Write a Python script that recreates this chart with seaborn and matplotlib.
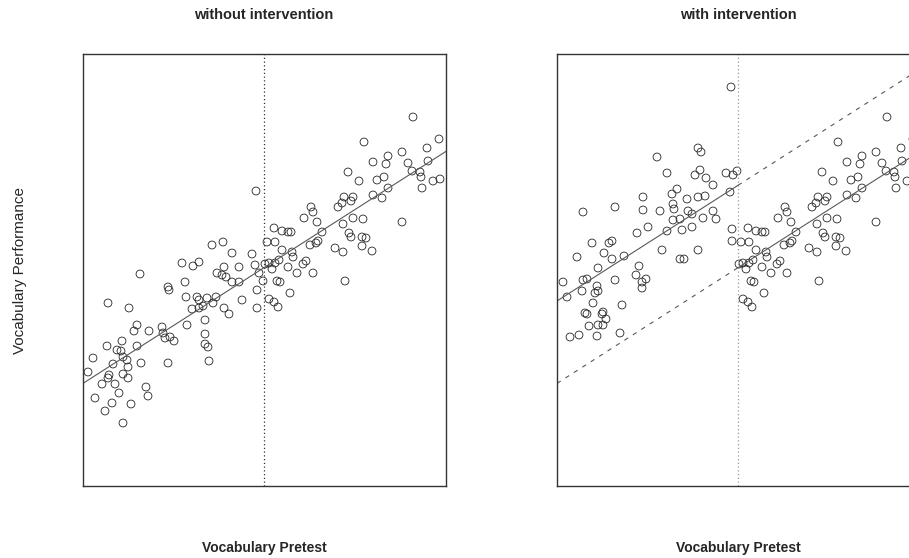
import numpy as np
import pandas as pd
import matplotlib
matplotlib.use("Agg")
import matplotlib.pyplot as plt
import seaborn as sns

# Cutoff on the pretest
cutoff = 50

# Treated group (pretest below cutoff), before the intervention
pre_treat = [14.8, 15.8, 16.2, 17.6, 18.2, 18.6, 18.8, 19.0, 18.8, 19.6,
             19.8, 20.2, 20.6, 21.0, 21.4, 21.6, 21.8, 21.8, 21.8, 22.6,
             22.8, 22.8, 23.0, 23.4, 24.0, 24.6, 24.6, 25.2, 25.4, 26.4,
             26.8, 27.0, 29.6, 29.8, 30.2, 31.2, 32.0, 30.8, 30.8, 31.0,
             33.6, 34.2, 34.4, 34.6, 35.6, 35.8, 36.6, 37.0, 37.0, 37.0,
             37.8, 38.2, 38.2, 38.2, 38.8, 39.0, 38.6, 39.6, 39.8, 40.4,
             40.6, 41.6, 41.8, 42.0, 42.4, 42.0, 43.0, 43.6, 43.6, 45.0,
             45.0, 45.6, 47.6, 48.2, 48.4, 48.6, 48.6, 49.0, 49.8]
post_treat = [29.6, 32.4, 24.4, 27.2, 21.8, 34.8, 28.4, 29.0, 43.4, 23.4,
              31.2, 27.2, 34.0, 25.4, 33.8, 35.8, 29.2, 19.4, 32.6, 32.0,
              30.6, 28.4, 42.4, 23.2, 37.8, 39.0, 34.8, 49.2, 31.4, 26.6,
              24.8, 37.8, 38.6, 37.4, 36.4, 36.6, 35.8, 31.4, 46.6, 46.0,
              51.4, 47.6, 44.6, 39.0, 42.2, 50.8, 44.6, 51.6, 44.0, 42.4,
              42.8, 40.0, 37.2, 35.2, 34.6, 31.8, 44.4, 55.0, 43.4, 44.6,
              49.4, 49.0, 55.6, 50.6, 48.6, 42.4, 41.2, 53.4, 47.6, 50.6,
              47.6, 44.0, 53.2, 51.0, 65.8, 46.0, 42.4, 49.4, 47.8]

# Treated group with the intervention
pre_treat_int = [48.6, 42.0, 42.6, 33.8, 42.4, 41.4, 43.6, 45.0, 47.6, 49.0,
                 49.8, 35.8, 37.8, 36.8, 31.0, 39.8, 42.0, 43.4, 48.4, 37.0,
                 37.2, 34.4, 40.0, 40.8, 45.0, 25.4, 31.0, 19.0, 37.0, 38.4,
                 43.0, 45.6, 38.8, 40.8, 32.0, 35.8, 29.8, 48.8, 48.8, 20.8,
                 24.8, 24.2, 23.2, 24.8, 27.2, 17.8, 34.8, 42.0, 38.4, 39.2,
                 30.2, 22.0, 15.0, 15.8, 18.8, 19.0, 19.8, 25.4, 29.6, 30.8,
                 31.6, 30.8, 21.8, 22.0, 21.4, 21.0, 19.4, 19.8, 23.0, 22.8,
                 23.6, 20.2, 22.0, 23.0, 26.8, 16.4, 18.2, 21.8, 26.4]
post_treat_int = [86.6, 74.4, 73.6, 72.6, 70.0, 69.0, 68.4, 67.0, 69.4, 69.0,
                  69.8, 69.4, 66.2, 65.2, 64.6, 64.2, 64.6, 64.8, 65.6, 63.2,
                  62.2, 61.8, 61.8, 61.2, 61.8, 62.6, 62.0, 61.6, 60.0, 60.2,
                  60.4, 60.2, 58.0, 58.6, 58.6, 57.8, 57.4, 58.2, 55.8, 55.4,
                  55.8, 55.4, 53.4, 52.2, 52.8, 52.6, 54.0, 54.0, 52.2, 52.2,
                  50.8, 50.4, 47.6, 44.6, 45.8, 48.0, 48.2, 48.0, 49.0, 47.6,
                  48.2, 46.4, 46.8, 45.8, 45.4, 43.4, 41.4, 41.2, 41.6, 41.2,
                  40.2, 38.8, 39.0, 39.0, 43.0, 36.6, 37.0, 36.8, 37.4]

# Comparison group (pretest above cutoff), same in both panels
pre_ctrl = [50.2, 51.0, 51.6, 52.2, 53.0, 54.8, 56.6, 59.8, 57.8, 58.4,
            52.6, 53.2, 66.2, 55.2, 51.0, 52.0, 52.8, 50.6, 52.2, 53.6,
            55.6, 55.8, 52.0, 53.6, 54.8, 55.4, 59.2, 60.8, 60.4, 61.6,
            64.2, 65.8, 58.0, 59.4, 59.8, 60.6, 64.8, 65.6, 66.0, 67.8,
            67.4, 65.8, 67.8, 69.8, 67.0, 67.4, 69.6, 70.4, 69.6, 71.6,
            77.6, 66.8, 69.0, 72.6, 74.0, 71.8, 73.6, 74.8, 79.6, 81.2,
            81.4, 83.8, 85.2, 81.6, 70.0, 71.8, 74.4, 74.8, 77.6, 78.8,
            82.8, 82.6, 79.8, 85.0]
post_ctrl = [51.2, 51.4, 50.2, 51.4, 52.0, 50.6, 49.4, 49.4, 51.2, 51.8,
             47.8, 47.6, 47.8, 45.4, 44.2, 43.6, 42.6, 55.6, 55.6, 54.0,
             53.6, 52.6, 58.4, 57.8, 57.6, 57.6, 55.0, 55.8, 55.4, 57.6,
             54.4, 53.6, 60.4, 62.6, 61.6, 59.6, 62.6, 63.4, 64.6, 64.6,
             63.8, 59.2, 60.4, 60.2, 57.4, 56.6, 56.6, 56.4, 54.8, 53.8,
             59.6, 69.6, 67.8, 68.0, 68.6, 65.0, 64.4, 66.4, 69.8, 69.6,
             68.6, 67.8, 68.2, 66.4, 75.6, 71.6, 71.2, 72.8, 73.6, 71.4,
             71.8, 74.4, 80.6, 76.2]

df_sin = pd.DataFrame({
    "pretest": pre_treat + pre_ctrl,
    "posttest": post_treat + post_ctrl,
})
df_con = pd.DataFrame({
    "pretest": pre_treat_int + pre_ctrl,
    "posttest": post_treat_int + post_ctrl,
})

xlim = (13.8, 86.4)
ylim = (6.8, 93.2)

sns.set_style("white")
plt.rcParams["font.family"] = ["Liberation Sans", "DejaVu Sans"]

fig = plt.figure(figsize=(9.09, 5.58), dpi=100)
W, H = 909, 558
ax1 = fig.add_axes([83 / W, (H - 486) / H, 363 / W, 432 / H])
ax2 = fig.add_axes([557 / W, (H - 486) / H, 363 / W, 432 / H])

for ax in (ax1, ax2):
    ax.set_xlim(xlim)
    ax.set_ylim(ylim)
    ax.set_xticks([])
    ax.set_yticks([])
    for s in ax.spines.values():
        s.set_color("0.2")
        s.set_linewidth(1.0)

# Panel 1: without intervention
ax1.axvline(cutoff, color="0.2", lw=0.9, ls=(0, (1, 2)))
sns.regplot(data=df_sin, x="pretest", y="posttest", ax=ax1, scatter=False,
            ci=None, truncate=False, color="0.35", line_kws={"lw": 0.8})
sns.scatterplot(data=df_sin, x="pretest", y="posttest", ax=ax1, s=32,
                facecolor="none", edgecolor="0.15", linewidth=0.6)

# Panel 2: with intervention
# line of the comparison (no-intervention fit) and the same line moved up
b, a = np.polyfit(df_sin["pretest"], df_sin["posttest"], 1)
efecto = np.mean(np.array(post_treat_int) - (a + b * np.array(pre_treat_int)))

ax2.axvline(cutoff, color="0.6", lw=0.9, ls=(0, (1, 2)))
xl = np.array([xlim[0], cutoff])
xr = np.array([cutoff, xlim[1]])
ax2.plot(xl, a + efecto + b * xl, color="0.35", lw=0.8)
ax2.plot(xr, a + efecto + b * xr, color="0.35", lw=0.8, ls=(0, (4, 5)))
ax2.plot(xl, a + b * xl, color="0.35", lw=0.8, ls=(0, (4, 5)))
ax2.plot(xr, a + b * xr, color="0.35", lw=0.8)
sns.scatterplot(data=df_con, x="pretest", y="posttest", ax=ax2, s=32,
                facecolor="none", edgecolor="0.15", linewidth=0.6)

for ax in (ax1, ax2):
    ax.set_xlim(xlim)
    ax.set_ylim(ylim)
    ax.set_xlabel("")
    ax.set_ylabel("")

fig.text(264 / W, 1 - 15 / H, "without intervention", ha="center", va="center",
         fontsize=10.5, fontweight="bold")
fig.text(738 / W, 1 - 15 / H, "with intervention", ha="center", va="center",
         fontsize=10.5, fontweight="bold")
fig.text(264 / W, 1 - 548 / H, "Vocabulary Pretest", ha="center", va="center",
         fontsize=10, fontweight="bold")
fig.text(738 / W, 1 - 548 / H, "Vocabulary Pretest", ha="center", va="center",
         fontsize=10, fontweight="bold")
fig.text(20 / W, 1 - 270 / H, "Vocabulary Performance", ha="center",
         va="center", rotation=90, fontsize=11)

fig.savefig("out.png", dpi=100)
